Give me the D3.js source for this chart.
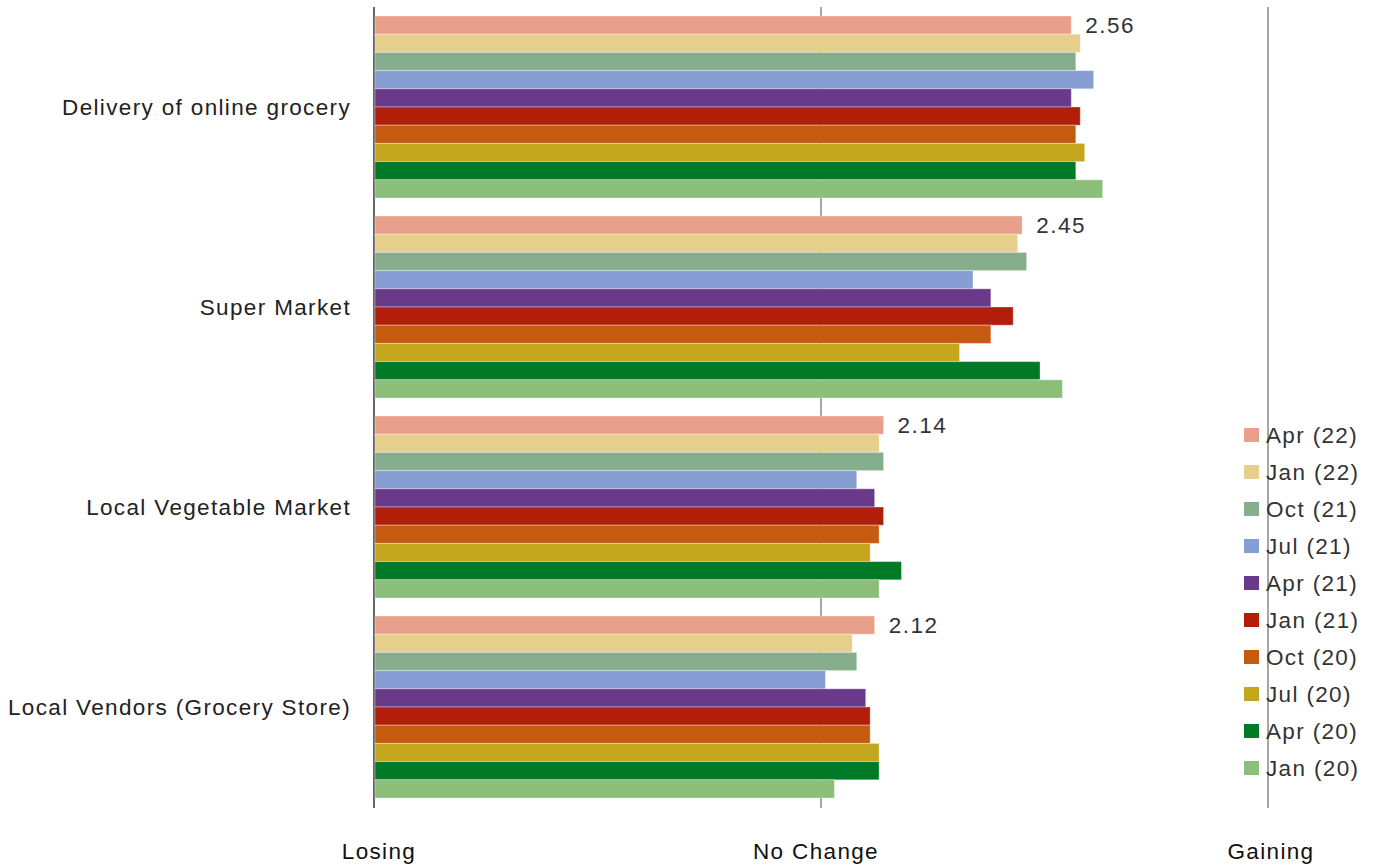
<!DOCTYPE html>
<html><head><meta charset="utf-8">
<script src="https://cdn.jsdelivr.net/npm/d3@7"></script>
<style>body{margin:0;background:#fff}svg{display:block;font-family:"Liberation Sans",Arial,sans-serif}</style>
</head><body><svg id="c" width="1374" height="867"></svg>
<script>
const categories = ["Delivery of online grocery","Super Market","Local Vegetable Market","Local Vendors (Grocery Store)"];
const seriesNames = ["Apr (22)","Jan (22)","Oct (21)","Jul (21)","Apr (21)","Jan (21)","Oct (20)","Jul (20)","Apr (20)","Jan (20)"];
const seriesColors = ["#E8A08A","#E5CF8A","#86AE8C","#869ED4","#6A398A","#B21E0A","#C55A11","#C4A71E","#007A27","#8BBE78"];
const apr22 = [2.56,2.45,2.14,2.12];
const jan22 = [2.58,2.44,2.13,2.07];
const oct21 = [2.57,2.46,2.14,2.08];
const jul21 = [2.61,2.34,2.08,2.01];
const apr21 = [2.56,2.38,2.12,2.10];
const jan21 = [2.58,2.43,2.14,2.11];
const oct20 = [2.57,2.38,2.13,2.11];
const jul20 = [2.59,2.31,2.11,2.13];
const apr20 = [2.57,2.49,2.18,2.13];
const jan20 = [2.63,2.54,2.13,2.03];
const seriesValues = [apr22,jan22,oct21,jul21,apr21,jan21,oct20,jul20,apr20,jan20];
const tickValues = [1,2,3];
const tickLabels = ["Losing","No Change","Gaining"];

const svg = d3.select("#c");
const x = d3.scaleLinear().domain([1,3]).range([374,1268]);
const y0 = d3.scaleBand().domain(categories).range([7,807]).paddingInner(0.09).paddingOuter(0.045);
const y1 = d3.scaleBand().domain(seriesNames).range([0,y0.bandwidth()]);
const FS = 22.5, LS = "1.35px";

// gridlines
svg.append("g").selectAll("line").data(tickValues).join("line")
  .attr("x1",d=>x(d)).attr("x2",d=>x(d)).attr("y1",7).attr("y2",808)
  .attr("stroke",(d,i)=>i===0?"#666":"#a6a6a6").attr("stroke-width",2);

// bars
const g = svg.append("g");
categories.forEach((cat,ci)=>{
  seriesNames.forEach((s,si)=>{
    g.append("rect")
      .attr("x",x(1)+1).attr("y",y0(cat)+y1(s))
      .attr("width",x(seriesValues[si][ci])-x(1)-1)
      .attr("height",y1.bandwidth())
      .attr("fill",seriesColors[si])
      .attr("stroke","rgba(255,255,255,0.35)").attr("stroke-width",1);
  });
  svg.append("text").attr("x",x(seriesValues[0][ci])+14).attr("y",y0(cat)+y1(seriesNames[0])+y1.bandwidth()/2)
    .attr("dy","0.35em").attr("font-size",FS).attr("fill","#333").attr("letter-spacing","1.5px").text(seriesValues[0][ci].toFixed(2));
  svg.append("text").attr("x",351).attr("y",y0(cat)+y0.bandwidth()/2)
    .attr("dy","0.35em").attr("text-anchor","end").attr("font-size",FS).attr("fill","#222").attr("letter-spacing",LS).text(cat);
});

// bottom labels
svg.append("g").selectAll("text").data(tickValues).join("text")
  .attr("x",(d,i)=>x(d)+[4,-6,2][i]+1).attr("y",851).attr("dy","0.35em").attr("text-anchor","middle")
  .attr("font-size",FS).attr("fill","#111").attr("letter-spacing",LS).text((d,i)=>tickLabels[i]);

// legend
const lg = svg.append("g");
seriesNames.forEach((s,i)=>{
  const yy = 435 + i*37;
  lg.append("rect").attr("x",1244).attr("y",yy-7).attr("width",15).attr("height",14).attr("fill",seriesColors[i]);
  lg.append("text").attr("x",1266).attr("y",yy).attr("dy","0.35em").attr("font-size",FS).attr("fill","#333").attr("letter-spacing",LS).text(s);
});
</script></body></html>
